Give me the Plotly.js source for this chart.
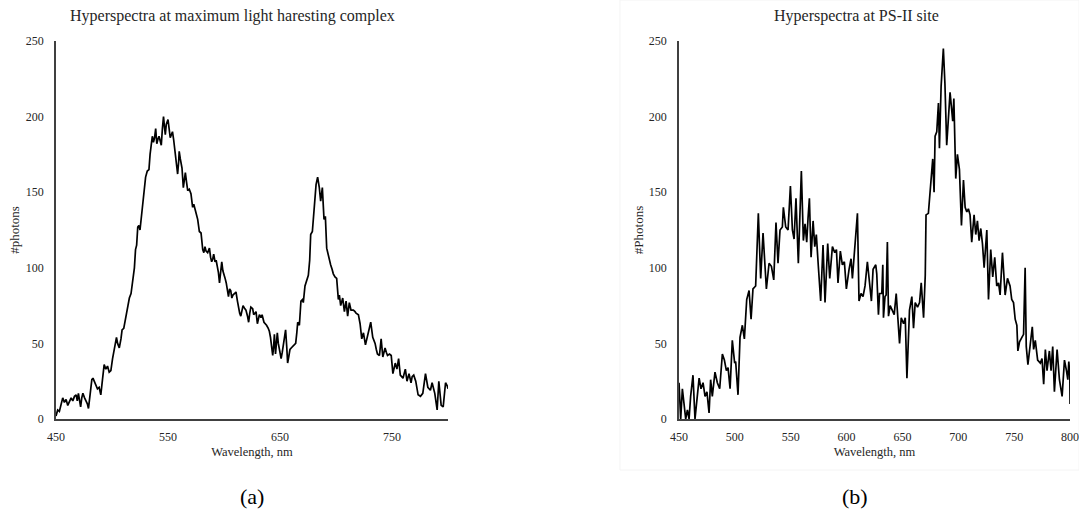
<!DOCTYPE html>
<html>
<head>
<meta charset="utf-8">
<script src="https://cdn.plot.ly/plotly-3.0.1.min.js"></script>
<style>html,body{margin:0;padding:0;background:#fff;}#chart{width:1079px;height:520px;}</style>
</head>
<body>
<div id="chart"></div>
<script>
// ---------- Data ----------
const titleA = "Hyperspectra at maximum light haresting complex";
const titleB = "Hyperspectra at PS-II site";
const xTitle = "Wavelength, nm";
const yTitleA = "#photons";
const yTitleB = "#Photons";
const panelLabels = ["(a)", "(b)"];

const wavelengthA = [450,451.5,453,455,456,457.5,459,460.5,462,463.5,465,466.5,468,469,470,471,472,473,474,475.5,477,478,479,480.5,482,483,484,485.5,487,488.5,490,491.5,493,494.5,496,497.5,499,500.5,502,503,504,505,506.5,508,509,510.5,512.5,514,515.5,517,518.5,520,521,522,523,524,525,526,527,528.5,530,531.5,533,534,535,536,537,538,539,540,541,542,543,544,545,546,547,547.6,548.5,550,551,552,553,554,555,556,557,558.6,559.5,560,561,562.5,563.7,564.5,565.5,566.5,567.6,569,570.5,572,573,574.4,575.5,576.5,578,579.5,581,582,583,584,585.4,587,588,589,590,590.8,592,593,594,595,596,597,598,599,600,601,602,603,604,605,606,607,608,609.5,610.7,612,612.8,614,615,616,617,618.5,619.6,621,622,623,624,625.6,626.5,627.7,628.6,629.8,630.7,631.6,633,634,635.7,637,638,639.5,640.5,641.5,642,643.5,644.3,645,646,647.6,648.5,649.4,651,652,652.9,654,655,656,656.8,658,658.9,660,661.3,662.5,664,665,665.8,667.3,668.7,670,670.8,672.3,674,675.3,676.5,677.4,678.9,680,680.7,682.2,683.6,685.1,686.3,687.8,689.3,690.5,691.7,693.5,695.2,696.5,697.6,699.1,700.6,702.1,703,704.2,706,707.5,709,710.4,711.9,713.4,715.5,717,717.9,720,721.5,723,724.5,726.3,728,729.6,731,732.8,734.9,736,737,738.8,740.3,741.8,743.8,745,746,747.8,749.3,750.8,752,752.9,754.4,755.9,757.4,759.8,761.9,763.4,765.2,767,768,769.4,771.2,773.3,775.4,777.5,779.9,782,784.3,785.8,788.2,790.3,791.8,793.9,795.7,797.8,799.3,800];
const photonsA = [2,6,5,10,14,11,13,9,11,14,12,15,16,12,17,11,8,14,17,14,12,10,7,18,26,27,25,22,20,21,16,26,36,33,35,31,32,40,46,50,54,50,47,53,59,60,68,73,80,83,90,100,112,115,127,128,125,133,140,150,160,164,165,175,184,187,183,186,192,182,185,187,184,181,192,200,192,188,195,198,192,186,188,190,185,179,175,162,170,177,172,166,153,158,163,157,151,152,149,140,142,138,135,132,124,123,112,110,114,111,110,113,107,104,106,109,104,105,101,97,90,99,104,98,96,93,90,85,81,86,85,80,82,83,84,78,74,70,68,72,75,73,72,68,64,70,74,73,69,70,71,63,66,69,67,69,64,63,62,60,58,54,50,42,48,56,43,57,50,46,40,44,48,53,59,48,37,42,46,47,48,49,50,57,64,62,78,79,77,88,92,95,105,122,124,135,143,155,160,153,144,153,132,134,113,106,102,99,96,94,93,79,82,75,80,71,78,68,77,72,72,71,70,69,63,53,57,49,54,58,64,54,50,46,43,42,53,41,47,44,42,43,42,30,34,37,33,40,29,27,33,25,30,24,28,29,25,16,15,17,30,21,19,24,17,6,25,9,8,24,22,20];

const wavelengthB = [450,451.5,453,454.5,456,457.5,459,460.4,462.5,464.3,465.8,468,469.7,471.5,473.3,475,476.9,478.3,479.8,482.2,484.3,486.4,488.8,490.6,492.4,493.9,495.7,497.7,499.8,500.7,502.8,504.6,506.7,508.5,510.6,512.7,514.5,516.2,518.6,521,523.1,525.2,528.2,530.6,532.7,534.8,536.8,538.6,540.4,542.5,543.4,545.5,547.6,549.7,551.5,553,554.7,556.8,559.5,561.3,562.8,564.3,565.5,566.7,568.2,570,571.5,572.9,574.7,576.8,578.9,580.7,583.1,584.9,587.3,589.4,590.9,592.3,594.4,596.2,598,599.8,602.2,604,605.2,607.3,609.7,611.1,612.9,614.7,616.5,618.6,620.1,622.2,623.7,626.1,627,628.5,629.5,631.5,632.4,633,634.4,635.4,636.5,637.5,639,641.4,642.6,644.4,645.9,647.4,648.9,651,652.5,654,656.3,658.4,659.9,661.4,663.5,665.3,666.8,668.9,670.4,671.1,673.2,675.6,677.1,678.3,679.2,680.7,682.2,683.1,684.6,686.6,688,689.6,691,692.6,694,695,696,697.7,699.2,701,702.8,704.6,706.1,707.6,709,710.5,712,714.1,715.6,717.1,718.6,720.1,721.6,723.1,725.5,727,729,730.8,732.6,734.4,736,737.4,739.5,741.9,744,746.3,747.8,749.4,750.9,752.4,753.3,754.8,756.9,758.4,759.8,760.8,762.3,764.4,766.2,767.4,768.9,771,773.4,774.9,776.4,777.9,779.4,781.5,783,784.5,786,788.4,790.5,792.9,795,796.8,798,798.9,799.8,800];
const photonsB = [24,0,20,10,0,6,0,15,29,0,10,27,20,24,15,18,4,26,15,31,24,20,43,39,32,34,20,52,37,38,16,54,62,53,79,85,66,86,88,136,93,123,86,103,101,92,130,103,125,127,140,127,125,154,125,119,146,103,164,118,129,117,133,146,107,131,114,122,101,78,115,77,116,93,114,110,112,90,111,102,104,86,99,106,93,111,136,78,83,81,88,104,92,78,99,102,96,69,83,83,102,67,81,82,117,68,75,71,69,83,66,50,67,63,67,27,72,81,60,77,74,77,90,67,95,135,136,158,172,150,187,190,209,179,220,245,222,181,200,216,205,197,212,159,175,165,128,158,140,137,139,135,117,135,122,131,118,126,116,100,125,79,112,94,107,88,90,82,110,82,93,88,79,77,66,62,45,51,54,56,100,48,36,51,61,46,52,39,37,40,23,46,32,45,32,48,18,46,26,15,39,32,26,38,29,10];

const yTicks = [0, 50, 100, 150, 200, 250];
const xTicksA = [450, 550, 650, 750];
const xTicksB = [450, 500, 550, 600, 650, 700, 750, 800];

// ---------- Figure ----------
const serif = "Liberation Serif, Times New Roman, serif";
const textColor = "#262626";
const axisColor = "#404040";

const traces = [
  {x: wavelengthA, y: photonsA, type: "scatter", mode: "lines", xaxis: "x", yaxis: "y",
   line: {color: "#000", width: 1.7}, hoverinfo: "x+y", showlegend: false},
  {x: wavelengthB, y: photonsB, type: "scatter", mode: "lines", xaxis: "x2", yaxis: "y2",
   line: {color: "#000", width: 1.7}, hoverinfo: "x+y", showlegend: false}
];

function xAxis(domain, ticks, anchor) {
  return {
    domain: domain, anchor: anchor, range: [450, 800], tickvals: ticks, ticktext: ticks.map(String),
    ticklabeloverflow: "allow",
    showgrid: false, zeroline: false, showline: true, linecolor: axisColor, linewidth: 1.5,
    ticks: "outside", ticklen: 6, tickcolor: "rgba(0,0,0,0)",
    tickfont: {family: serif, size: 12, color: textColor},
    title: {text: xTitle, font: {family: serif, size: 12.5, color: textColor}, standoff: 4}
  };
}
function yAxis(anchor, title) {
  return {
    domain: [0.1942, 0.9212], anchor: anchor, range: [0, 250], tickvals: yTicks,
    showgrid: false, zeroline: false, showline: true, linecolor: axisColor, linewidth: 1.5,
    ticks: "outside", ticklen: 8, tickcolor: "rgba(0,0,0,0)",
    tickfont: {family: serif, size: 12, color: textColor},
    title: {text: title, font: {family: serif, size: 13, color: textColor}}
  };
}

const layout = {
  width: 1079, height: 520,
  margin: {l: 0, r: 0, t: 0, b: 0},
  paper_bgcolor: "#fff", plot_bgcolor: "#fff",
  xaxis: xAxis([0.0519, 0.4152], xTicksA, "y"),
  yaxis: yAxis("x", yTitleA),
  xaxis2: xAxis([0.6293, 0.9917], xTicksB, "y2"),
  yaxis2: yAxis("x2", yTitleB),
  shapes: [
    {type: "rect", xref: "paper", yref: "paper", x0: 0.5746, x1: 1.0, y0: 0.096, y1: 1.0,
     line: {color: "#f4f4f4", width: 1}, fillcolor: "rgba(0,0,0,0)", layer: "below"}
  ],
  annotations: [
    {text: titleA, xref: "paper", yref: "paper", x: 232/1079, y: 1 - 16/520, xanchor: "center", yanchor: "middle",
     showarrow: false, font: {family: serif, size: 16, color: textColor}},
    {text: titleB, xref: "paper", yref: "paper", x: 856/1079, y: 1 - 16/520, xanchor: "center", yanchor: "middle",
     showarrow: false, font: {family: serif, size: 16, color: textColor}},
    {text: panelLabels[0], xref: "paper", yref: "paper", x: 252/1079, y: 1 - 496/520, xanchor: "center", yanchor: "middle",
     showarrow: false, font: {family: serif, size: 22, color: "#000"}},
    {text: panelLabels[1], xref: "paper", yref: "paper", x: 855/1079, y: 1 - 496/520, xanchor: "center", yanchor: "middle",
     showarrow: false, font: {family: serif, size: 22, color: "#000"}}
  ]
};

Plotly.newPlot("chart", traces, layout, {displayModeBar: false, staticPlot: false, responsive: false});
</script>
</body>
</html>
